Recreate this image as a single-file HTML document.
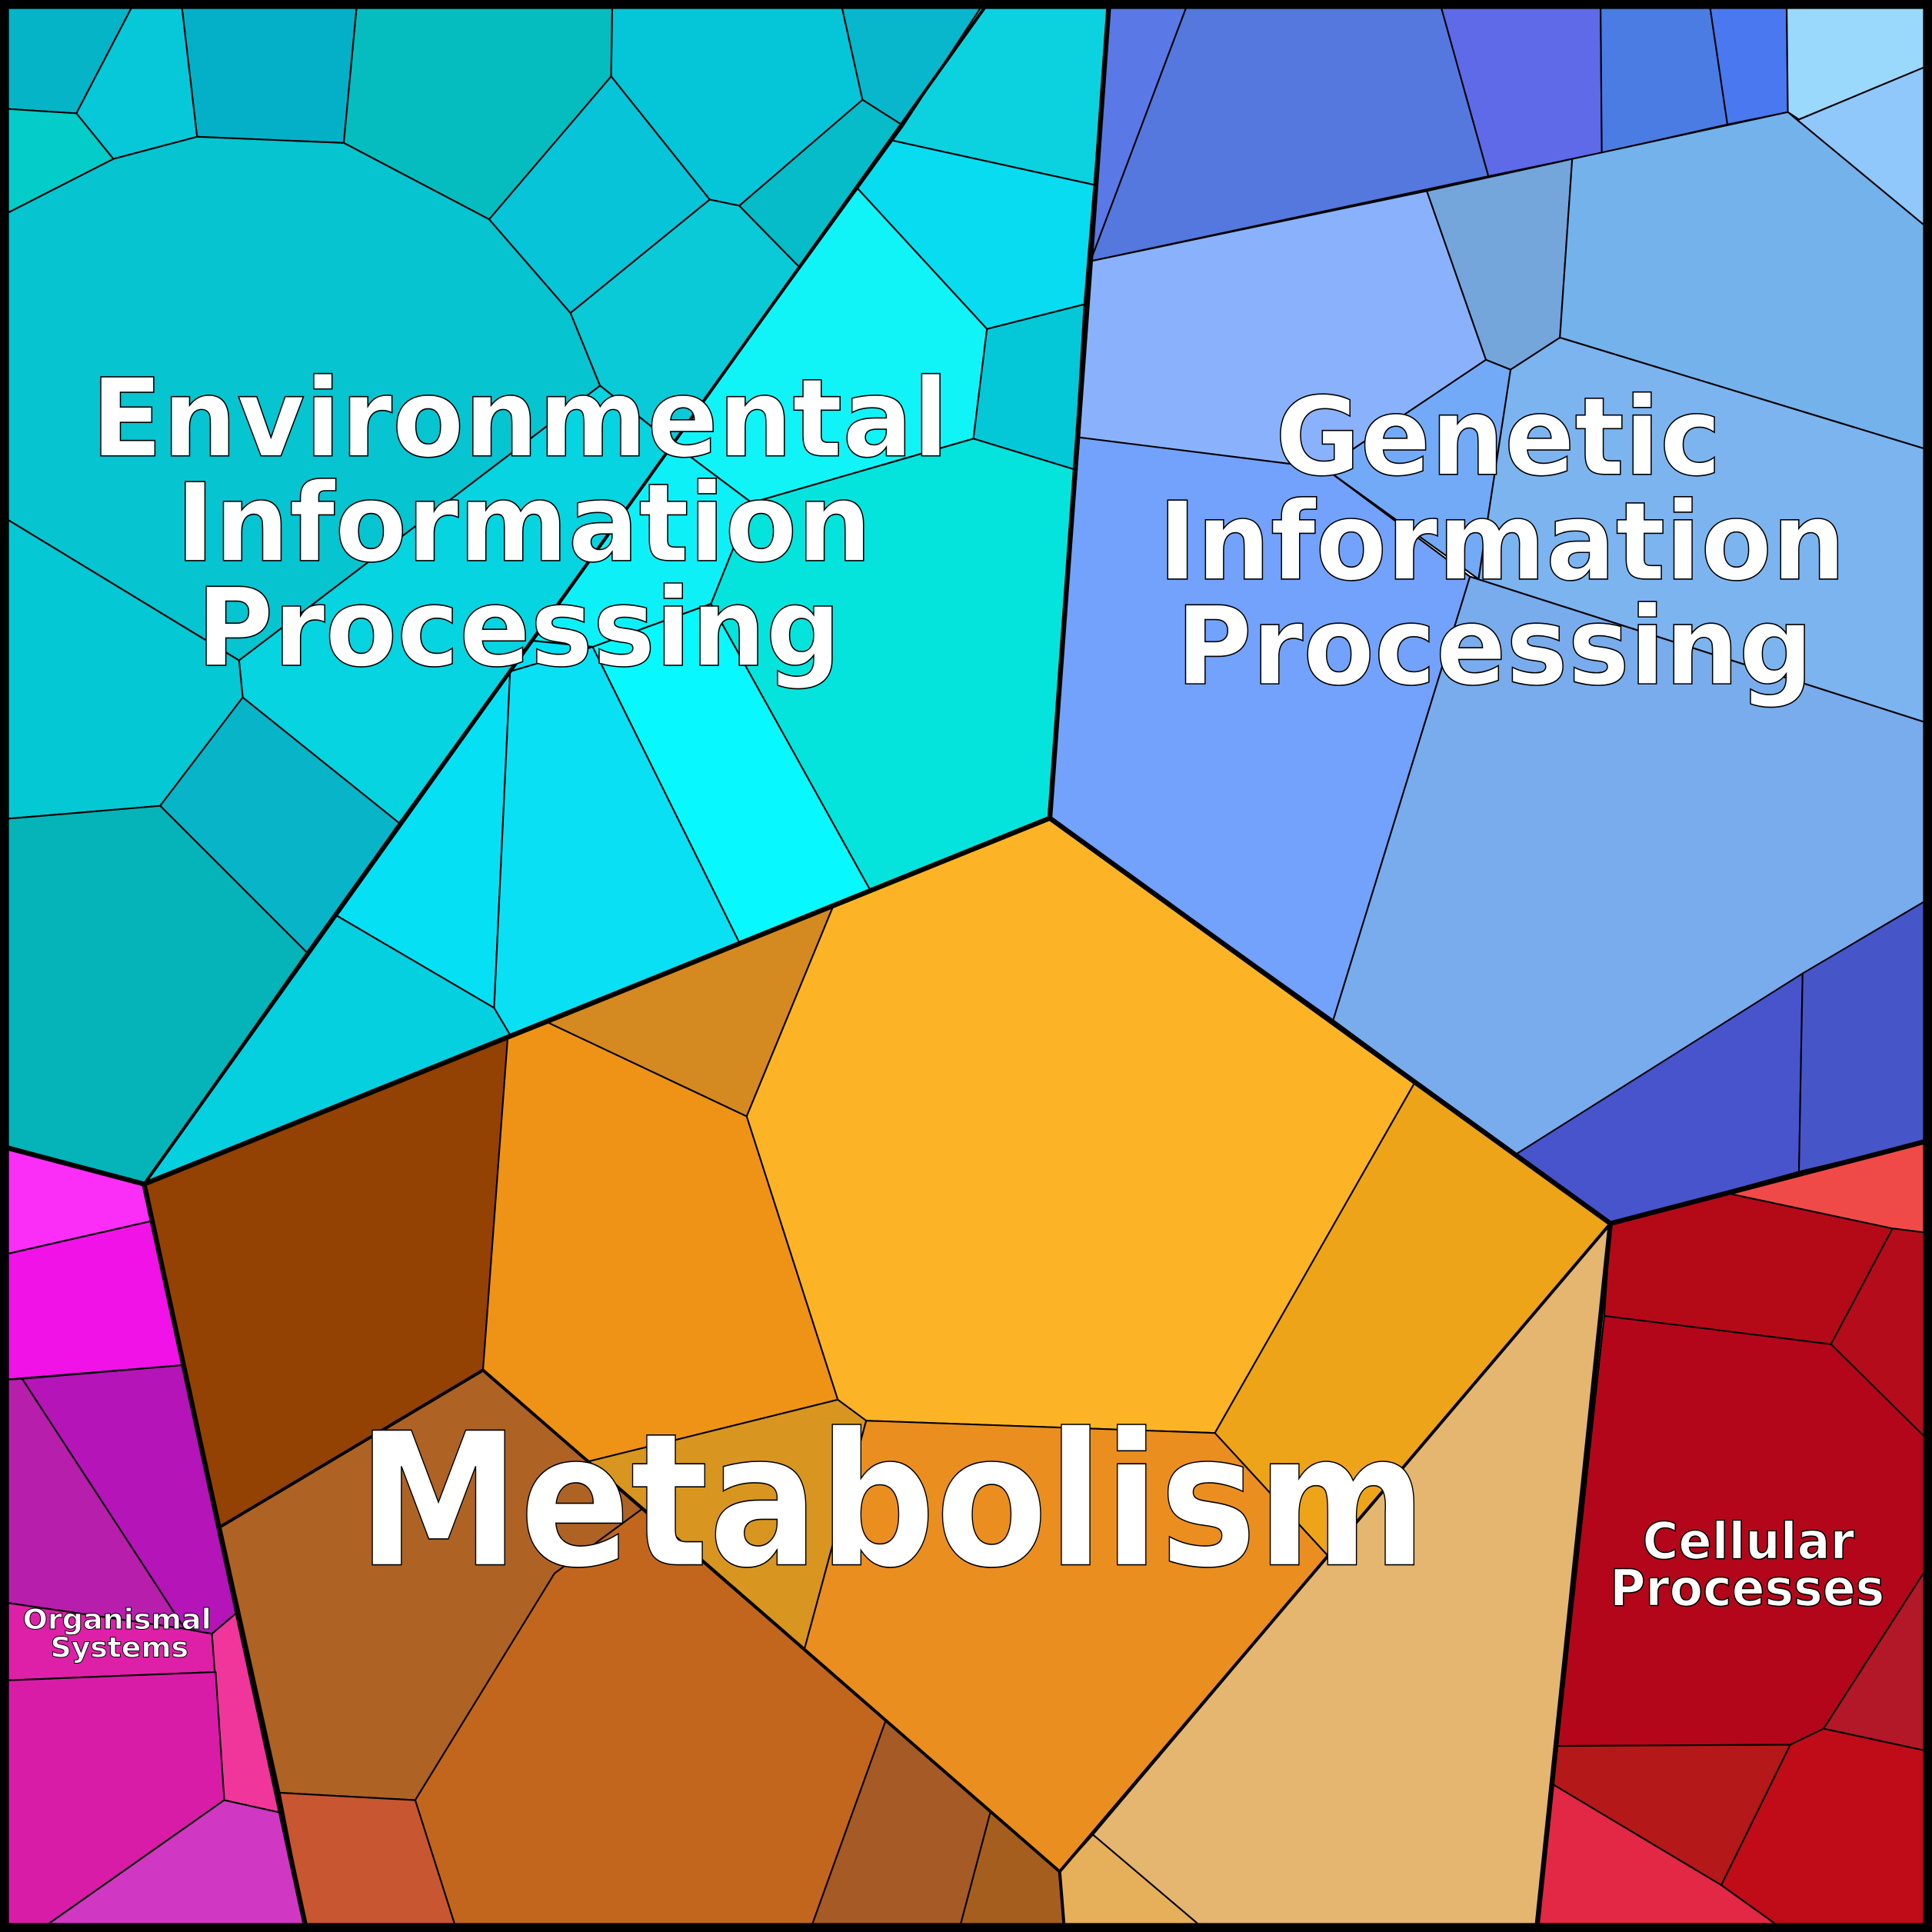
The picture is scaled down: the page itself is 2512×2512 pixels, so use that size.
<!DOCTYPE html>
<html><head><meta charset="utf-8"><style>html,body{margin:0;padding:0;background:#fff}svg{display:block}</style></head>
<body>
<svg width="2512" height="2512" viewBox="0 0 1568 1568" xmlns="http://www.w3.org/2000/svg">
<g stroke="#000" stroke-width="1.3" stroke-linejoin="round">
<!-- Environmental -->
<polygon fill="#06b4c8" points="0,0 110,0 62,92 0,88"/>
<polygon fill="#06c8d8" points="110,0 147,0 160,111 92,129 62,92"/>
<polygon fill="#04b0c8" points="147,0 290,0 279,116 160,111"/>
<polygon fill="#05bdbf" points="290,0 497,0 496,62 397,178 279,116"/>
<polygon fill="#04c6d8" points="497,0 682,0 700,81 600,167 576,162 496,62"/>
<polygon fill="#08b7cc" points="682,0 800,0 733,102 700,81"/>
<polygon fill="#0cd2e0" points="800,0 900,0 888,150 724,114 733,102"/>
<polygon fill="#04ccc8" points="0,88 62,92 92,129 0,176"/>
<polygon fill="#06c4d0" points="0,176 92,129 160,111 279,116 397,178 463,254 487,313 194,536 0,418"/>
<polygon fill="#08c4d8" points="397,178 496,62 576,162 463,254"/>
<polygon fill="#0acad8" points="463,254 576,162 600,167 649,217 546,360 487,313"/>
<polygon fill="#05bcc8" points="600,167 700,81 733,102 649,217"/>
<polygon fill="#08dcf0" points="733,102 724,114 888,150 880,247 801,267 696,153"/>
<polygon fill="#10f4f8" points="696,153 801,267 790,356 610,408 546,360"/>
<polygon fill="#04c8d8" points="801,267 880,247 872,381 790,356"/>
<polygon fill="#04e4dc" points="790,356 872,381 852,664 706,722 577,490 610,408"/>
<polygon fill="#08f8ff" points="577,490 706,722 600,765 481,525"/>
<polygon fill="#0ef0f8" points="546,360 610,408 577,490 481,525 432,520"/>
<polygon fill="#06d4e0" points="194,536 487,313 546,360 324,668 197,566"/>
<polygon fill="#04c8d4" points="0,418 194,536 197,566 130,654 0,665"/>
<polygon fill="#08b4c8" points="197,566 324,668 249,773 130,654"/>
<polygon fill="#04b4b8" points="0,665 130,654 249,773 117,961 0,930"/>
<polygon fill="#06e0f4" points="432,520 481,525 414,545 401,818 273,743 324,668"/>
<polygon fill="#0ae0f4" points="414,545 481,525 600,765 414,840 401,818"/>
<polygon fill="#04d0e0" points="273,743 401,818 414,840 117,961"/>
<!-- Genetic -->
<polygon fill="#5a78e6" points="900,0 965,0 885,212"/>
<polygon fill="#5478de" points="965,0 1168,0 1208,143 885,212"/>
<polygon fill="#5e6ae8" points="1168,0 1299,0 1300,124 1208,143"/>
<polygon fill="#4a7ce4" points="1299,0 1387,0 1402,101 1300,124"/>
<polygon fill="#4a78f0" points="1387,0 1450,0 1451,91 1402,101"/>
<polygon fill="#9ad8fc" points="1450,0 1568,0 1568,52 1460,97 1451,91"/>
<polygon fill="#90c8fc" points="1460,97 1568,52 1568,188 1451,91"/>
<polygon fill="#8ab2fc" points="885,212 1158,155 1206,292 1075,380 876,355"/>
<polygon fill="#74a6dc" points="1158,155 1276,129 1266,274 1226,300 1206,292"/>
<polygon fill="#74b2ec" points="1276,129 1451,91 1568,188 1568,366 1266,274"/>
<polygon fill="#72aaf8" points="1206,292 1226,300 1200,470 1075,380"/>
<polygon fill="#7cb4f0" points="1226,300 1266,274 1568,366 1568,588 1193,468 1200,470"/>
<polygon fill="#72a2fc" points="876,355 1075,380 1193,468 1082,828 852,664"/>
<polygon fill="#78acec" points="1193,468 1568,588 1568,728 1230,937 1082,828"/>
<polygon fill="#4854cc" points="1230,937 1463,790 1460,951 1307,993"/>
<polygon fill="#4656c8" points="1463,790 1568,728 1568,925 1460,951"/>
<!-- Metabolism -->
<polygon fill="#944104" points="117,961 412,843 392,1112 179,1239"/>
<polygon fill="#ee9316" points="412,843 445,830 606,906 680,1136 478,1186 392,1112"/>
<polygon fill="#d48a20" points="445,830 676,736 606,906"/>
<polygon fill="#fcb426" points="676,736 852,664 1148,879 986,1163 703,1153 680,1136 606,906"/>
<polygon fill="#eea418" points="1148,879 1307,993 1078,1263 986,1163"/>
<polygon fill="#d89620" points="478,1186 680,1136 703,1153 653,1338 522,1224"/>
<polygon fill="#ea8e20" points="703,1153 986,1163 1078,1263 860,1519 653,1338"/>
<polygon fill="#ae6224" points="179,1239 392,1112 522,1224 450,1277 337,1461 227,1455"/>
<polygon fill="#c2661e" points="450,1277 522,1224 719,1396 657,1568 371,1568 337,1461"/>
<polygon fill="#c85630" points="227,1455 337,1461 371,1568 249,1568"/>
<polygon fill="#a65a26" points="719,1396 804,1470 778,1568 657,1568"/>
<polygon fill="#a65e1e" points="804,1470 860,1519 864,1568 778,1568"/>
<polygon fill="#e4b670" points="1307,993 1247,1568 980,1568 887,1489 1078,1263"/>
<polygon fill="#e6b05a" points="887,1489 980,1568 864,1568 860,1519"/>
<!-- Organismal -->
<polygon fill="#fa2ef6" points="0,930 117,961 123,991 0,1019"/>
<polygon fill="#f012e6" points="0,1019 123,991 148,1108 0,1120"/>
<polygon fill="#b81eac" points="0,1120 18,1119 150,1322 0,1300"/>
<polygon fill="#b414b8" points="18,1119 148,1108 192,1309 172,1326 150,1322"/>
<polygon fill="#de20a8" points="0,1300 150,1322 172,1326 175,1357 0,1364"/>
<polygon fill="#f0369a" points="172,1326 192,1309 227,1471 182,1461"/>
<polygon fill="#d81ca8" points="0,1364 175,1357 182,1461 30,1568 0,1568"/>
<polygon fill="#d038c4" points="30,1568 182,1461 227,1471 249,1568"/>
<!-- Cellular -->
<polygon fill="#b40a18" points="1307,993 1400,968 1536,997 1486,1091 1302,1068"/>
<polygon fill="#f04a48" points="1400,968 1568,925 1568,1001 1536,997"/>
<polygon fill="#b50c1c" points="1536,997 1568,1001 1568,1172 1486,1091"/>
<polygon fill="#b4061a" points="1302,1068 1486,1091 1568,1172 1568,1266 1480,1403 1453,1416 1264,1417"/>
<polygon fill="#b21828" points="1480,1403 1568,1266 1568,1422"/>
<polygon fill="#b41818" points="1264,1417 1453,1416 1397,1530 1260,1448"/>
<polygon fill="#c00c18" points="1453,1416 1480,1403 1568,1422 1568,1568 1450,1568 1397,1530"/>
<polygon fill="#e22844" points="1260,1448 1397,1530 1450,1568 1247,1568"/>
</g>
<g fill="none" stroke="#000" stroke-width="2.5" stroke-linecap="round">
<polyline points="800,5 117,961"/>
<polyline points="392,1112 860,1519 864,1568"/>
<polyline points="392,1112 179,1239"/>
<polyline points="1307,993 860,1519"/>
</g>
<g fill="none" stroke="#000" stroke-width="4" stroke-linejoin="round" stroke-linecap="round">
<polyline points="900,3 885,212 852,664 117,961 0,930"/>
<polyline points="852,664 1307,993 1568,925"/>
<polyline points="1307,993 1247,1568"/>
<polyline points="117,961 249,1568"/>
</g>
<rect x="3.5" y="3.5" width="1561" height="1561" fill="none" stroke="#000" stroke-width="7.5"/>
<g font-family="'DejaVu Sans','Liberation Sans',sans-serif" font-weight="bold" fill="#fff" stroke="#000" stroke-width="1" text-anchor="middle" lengthAdjust="spacingAndGlyphs">
<text x="422" y="370" font-size="88" textLength="696" lengthAdjust="spacingAndGlyphs">Environmental</text>
<text x="425" y="455" font-size="88" textLength="565" lengthAdjust="spacingAndGlyphs">Information</text>
<text x="421" y="540" font-size="88" textLength="523" lengthAdjust="spacingAndGlyphs">Processing</text>
<text x="1216" y="385" font-size="88" textLength="362" lengthAdjust="spacingAndGlyphs">Genetic</text>
<text x="1219" y="470" font-size="88" textLength="558" lengthAdjust="spacingAndGlyphs">Information</text>
<text x="1213" y="555" font-size="88" textLength="517" lengthAdjust="spacingAndGlyphs">Processing</text>
<text x="724" y="1270" font-size="150" textLength="868" lengthAdjust="spacingAndGlyphs">Metabolism</text>
<text x="1419" y="1265" font-size="41" textLength="172" lengthAdjust="spacingAndGlyphs">Cellular</text>
<text x="1418" y="1303" font-size="41" textLength="223" lengthAdjust="spacingAndGlyphs">Processes</text>
<text x="95" y="1322" font-size="23" stroke-width="0.6" textLength="153" lengthAdjust="spacingAndGlyphs">Organismal</text>
<text x="97" y="1345" font-size="23" stroke-width="0.6" textLength="112" lengthAdjust="spacingAndGlyphs">Systems</text>
</g>
</svg>
</body></html>
